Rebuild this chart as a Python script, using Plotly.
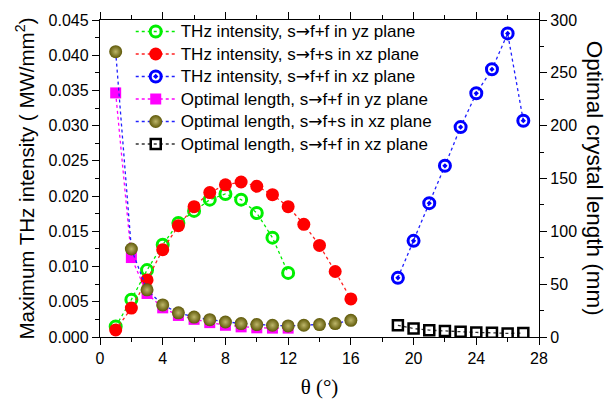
import plotly.graph_objects as go

# ---- data ----
theta_yz = [1, 2, 3, 4, 5, 6, 7, 8, 9, 10, 11, 12]
thz_ff_yz = [0.0015, 0.0053, 0.0095, 0.0131, 0.0162, 0.0179, 0.0195, 0.0203, 0.0195, 0.0176, 0.0141, 0.0091]

theta_fs = [1, 2, 3, 4, 5, 6, 7, 8, 9, 10, 11, 12, 13, 14, 15, 16]
thz_fs_xz = [0.0010, 0.0041, 0.0081, 0.0124, 0.0158, 0.0185, 0.0205, 0.0216, 0.0220, 0.0214,
             0.0202, 0.0185, 0.0160, 0.0130, 0.0093, 0.0054]

theta_xz = [19, 20, 21, 22, 23, 24, 25, 26, 27]
thz_ff_xz = [0.0084, 0.01365, 0.0190, 0.0243, 0.0298, 0.0346, 0.0380, 0.0431, 0.0307]

len_ff_yz = [231, 75.2, 41.2, 27.6, 20.4, 16.7, 13.6, 11.1, 9.6, 8.7, 8.4, 8.4]
len_fs_xz = [270, 83.3, 44.6, 30.4, 22.9, 18.9, 16.4, 14.2, 12.7, 11.8, 11.1, 10.5, 11.1, 11.8, 12.7, 15.8]
len_ff_xz = [11.1, 8.0, 6.5, 5.6, 4.9, 4.3, 4.0, 3.4, 3.7]

x_ticks = [0, 4, 8, 12, 16, 20, 24, 28]

ARROW = '<span style="font-family:DejaVu Sans">\u2192</span>'
labels = [
    f"THz intensity, s{ARROW}f+f in yz plane",
    f"THz intensity, s{ARROW}f+s in xz plane",
    f"THz intensity, s{ARROW}f+f in xz plane",
    f"Optimal length, s{ARROW}f+f in yz plane",
    f"Optimal length, s{ARROW}f+s in xz plane",
    f"Optimal length, s{ARROW}f+f in xz plane",
]
names = [f'<span style="font-size:17px">{t}</span>' for t in labels]

fig = go.Figure()
fig.add_trace(go.Scatter(x=theta_yz, y=thz_ff_yz, name=names[0], mode="lines+markers",
                         line=dict(color="#00ee00", dash="dot", width=1.3),
                         marker=dict(symbol="circle-open", size=11, color="#00ee00", line=dict(width=3, color="#00ee00"))))
fig.add_trace(go.Scatter(x=theta_fs, y=thz_fs_xz, name=names[1], mode="lines+markers",
                         line=dict(color="#ff2020", dash="dot", width=1.3),
                         marker=dict(symbol="circle", size=13, color="#ff0000")))
fig.add_trace(go.Scatter(x=theta_xz, y=thz_ff_xz, name=names[2], mode="lines+markers",
                         line=dict(color="#2020ff", dash="dot", width=1.3),
                         marker=dict(symbol="circle-open-dot", size=11, color="#0000ff", line=dict(width=3, color="#0000ff"))))
fig.add_trace(go.Scatter(x=theta_yz, y=len_ff_yz, name=names[3], mode="lines+markers", yaxis="y2",
                         line=dict(color="#ff00ff", dash="dot", width=1.3),
                         marker=dict(symbol="square", size=11, color="#ff00ff")))
fig.add_trace(go.Scatter(x=theta_fs, y=len_fs_xz, name=names[4], mode="lines+markers", yaxis="y2",
                         line=dict(color="#2020ff", dash="dot", width=1.3),
                         marker=dict(symbol="circle", size=13, color="#5e5808",
                                     gradient=dict(type="radial", color="#bdb66a"))))
fig.add_trace(go.Scatter(x=theta_xz, y=len_ff_xz, name=names[5], mode="lines+markers", yaxis="y2",
                         line=dict(color="#333333", dash="dot", width=1.3),
                         marker=dict(symbol="square-open", size=10, color="#000000", line=dict(width=2.5, color="#000000"))))

axis_common = dict(showline=True, linecolor="black", linewidth=1.3, ticks="outside",
                   tickcolor="black", ticklen=7, tickwidth=1.3, showgrid=False, zeroline=False,
                   tickfont=dict(family="Liberation Sans, Arial", size=16, color="black"))

fig.update_layout(
    width=611, height=408,
    margin=dict(l=100, r=72, t=14, b=71),
    paper_bgcolor="white", plot_bgcolor="white",
    showlegend=True,
    legend=dict(x=0.07, y=1.015, xanchor="left", yanchor="top", bgcolor="rgba(0,0,0,0)",
                font=dict(family="Liberation Sans, Arial", size=15, color="black"),
                tracegroupgap=0, itemwidth=40),
    xaxis=dict(range=[0, 28], tickvals=x_ticks, mirror="ticks",
               minor=dict(dtick=2, ticklen=4, tickcolor="black", ticks="outside"),
               title=dict(text="\u03b8 (\u00b0)", font=dict(family="Liberation Serif, Times New Roman", size=21, color="black"),
                          standoff=12),
               **axis_common),
    yaxis=dict(range=[0, 0.045], dtick=0.005, tickformat=".3f",
               minor=dict(dtick=0.0025, ticklen=4, tickcolor="black", ticks="outside"),
               title=dict(text="Maximum THz intensity ( MW/mm<sup>2</sup>)",
                          font=dict(family="Liberation Sans, Arial", size=20.5, color="black"), standoff=8),
               **axis_common),
    yaxis2=dict(range=[0, 300], dtick=50, overlaying="y", side="right",
                minor=dict(dtick=25, ticklen=4, tickcolor="black", ticks="outside"),
                **axis_common),
    annotations=[dict(text="Optimal crystal length (mm)", textangle=90, xref="paper", yref="paper",
                      x=1.127, y=0.5, xanchor="center", yanchor="middle", showarrow=False,
                      font=dict(family="Liberation Sans, Arial", size=22.5, color="black"))],
)

fig.write_html("out.html")
